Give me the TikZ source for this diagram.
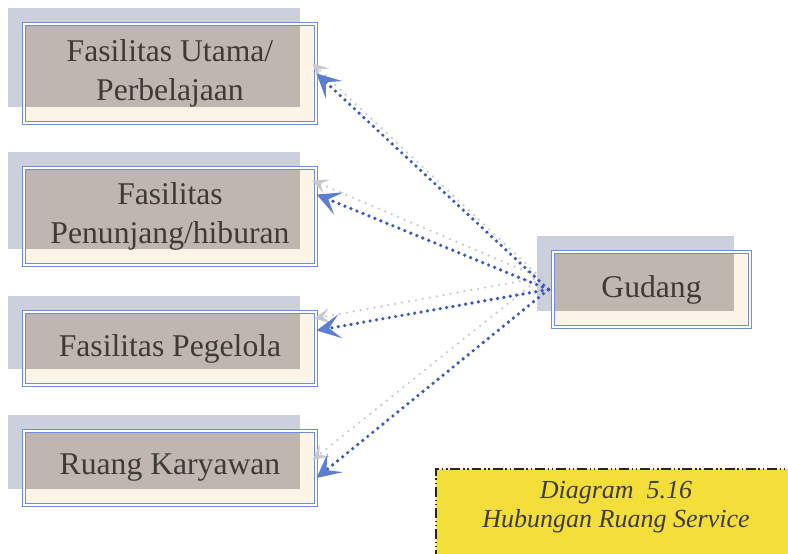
\documentclass[tikz,border=0pt]{standalone}
\usepackage{fontspec}
\setmainfont{Liberation Serif}
\usetikzlibrary{positioning,arrows.meta,shadows}
\definecolor{boxblue}{RGB}{112,142,214}
\definecolor{shadowgrey}{RGB}{203,208,220}
\definecolor{cream}{RGB}{252,244,231}
\definecolor{taupe}{RGB}{191,183,175}
\definecolor{dotblue}{RGB}{58,90,182}
\definecolor{tipblue}{RGB}{92,126,210}
\definecolor{ghost}{RGB}{200,200,208}
\definecolor{notegold}{RGB}{244,222,58}
\definecolor{ink}{RGB}{62,58,56}

\begin{document}
\begin{tikzpicture}[x=0.025cm,y=-0.025cm]
  \tikzstyle{room}=[draw=boxblue, double=white, double distance=1pt, line width=0.7pt,
fill=cream, text=ink, align=center, font=\fontsize{22.5}{28}\selectfont, minimum width=7.3cm,
general shadow={fill=shadowgrey, shadow xshift=-0.4cm, shadow yshift=0.4cm},
path picture={\fill[taupe] (path picture bounding box.north west) rectangle
  ([xshift=-0.4cm,yshift=0.4cm]path picture bounding box.south east);}]
  \tikzstyle{link}=[dotblue, line width=2.6pt, line cap=round, dash pattern=on 0pt off 4.6pt,
-{Stealth[length=17pt,width=17pt,inset=8pt,color=tipblue]}]
  \tikzstyle{ghostlink}=[ghost, line width=1.8pt, line cap=round, dash pattern=on 0pt off 5pt,
-{Stealth[length=11pt,width=11pt,inset=5pt]}]
  \useasboundingbox (0,0) rectangle (788,553);

  \node[room, minimum height=2.475cm] (utama) at (170,73.5) {Fasilitas Utama/\\Perbelajaan};
  \node[room, minimum height=2.425cm] (penunjang) at (170,216.5) {Fasilitas\\Penunjang/hiburan};
  \node[room, minimum height=1.825cm] (pengelola) at (170,348.5) {Fasilitas Pegelola};
  \node[room, minimum height=1.85cm] (karyawan) at (170,468) {Ruang Karyawan};
  \node[room, minimum width=4.925cm, minimum height=1.875cm] (gudang) at (651.5,289.5) {Gudang};

  % faint copies of the links, offset up and left
  \draw[ghostlink] ([xshift=-0.3cm,yshift=0.3cm]gudang.west) -- ([xshift=-0.1cm,yshift=0.25cm]utama.east);
  \draw[ghostlink] ([xshift=-0.3cm,yshift=0.3cm]gudang.west) -- ([xshift=-0.1cm,yshift=0.9cm]penunjang.east);
  \draw[ghostlink] ([xshift=-0.3cm,yshift=0.3cm]gudang.west) -- ([xshift=-0.05cm,yshift=0.75cm]pengelola.east);
  \draw[ghostlink] ([xshift=-0.3cm,yshift=0.3cm]gudang.west) -- ([xshift=-0.1cm,yshift=0.2cm]karyawan.east);

  \draw[link] ([xshift=-0.1cm]gudang.west) -- (utama.east);
  \draw[link] ([xshift=-0.1cm]gudang.west) -- ([yshift=0.55cm]penunjang.east);
  \draw[link] ([xshift=-0.1cm]gudang.west) -- ([yshift=0.45cm]pengelola.east);
  \draw[link] ([xshift=-0.1cm]gudang.west) -- ([yshift=-0.25cm]karyawan.east);

  % caption panel
  \fill[notegold] (436,469) rectangle (800,560);
  \draw[black!85, line width=1.5pt, dash pattern=on 7pt off 2pt on 1pt off 2pt on 1pt off 2pt]
    (436,560) -- (436,469) -- (800,469);
  \node[text=ink, align=center, font=\fontsize{18.5}{21}\selectfont\itshape] (caption) at (616,507)
    {Diagram~~5.16\\Hubungan Ruang Service};
\end{tikzpicture}
\end{document}
